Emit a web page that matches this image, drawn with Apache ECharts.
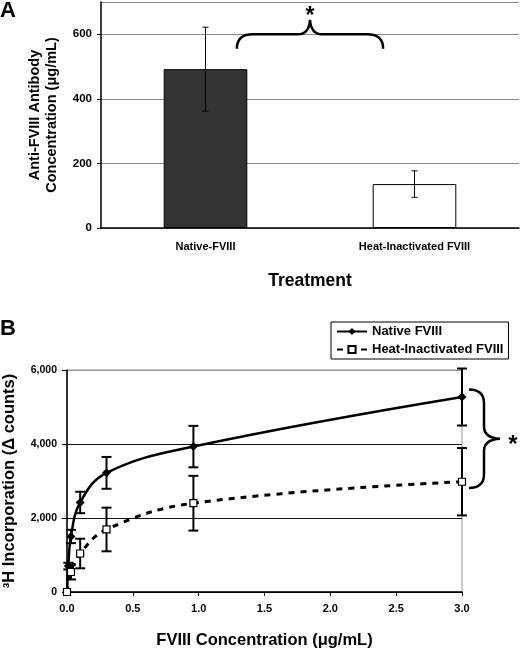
<!DOCTYPE html>
<html lang="en">
<head>
<meta charset="UTF-8">
<title>FVIII</title>
<script src="https://cdn.jsdelivr.net/npm/echarts@6.0.0/dist/echarts.min.js"></script>
<style>
  html, body { margin: 0; padding: 0; background: #fff; }
  #viz { width: 520px; height: 648px; }
</style>
</head>
<body>
<div id="viz"></div>
<script>
  // panel A
  const barCategories = ['Native-FVIII', 'Heat-Inactivated FVIII'];
  const barMeans = [492, 136];
  const barErrors = [130, 41];

  // panel B
  const nativeConc = [0, 0.01, 0.03, 0.1, 0.3, 0.96, 3];
  const nativeMeans = [0, 700, 1500, 2420, 3220, 3930, 5270];
  const nativeErrors = [0, 90, 180, 290, 430, 560, 770];

  const heatConc = [0, 0.03, 0.1, 0.3, 0.96, 3];
  const heatMeans = [0, 540, 1040, 1690, 2400, 2980];
  const heatErrors = [0, 200, 400, 590, 740, 910];

  // significance braces (value positions)
  const braceA = [555, 600, 645];   // ends, flat, tip
  const braceB = [5470, 2810];      // top end, bottom end

  const font = '"Liberation Sans", Arial, sans-serif';
  const bold = { fontFamily: font, fontWeight: 'bold', color: '#000' };

  const withCommas = v => String(v).replace(/\B(?=(\d{3})+(?!\d))/g, ',');

  const errorBars = (capHalf, width) => (params, api) => {
    const x = api.value(0), lo = api.value(1), hi = api.value(2);
    if (hi === lo) return;
    const top = api.coord([x, hi]), bot = api.coord([x, lo]);
    const st = { stroke: '#000', lineWidth: width };
    return {
      type: 'group', children: [
        { type: 'line', shape: { x1: top[0], y1: top[1], x2: bot[0], y2: bot[1] }, style: st },
        { type: 'line', shape: { x1: top[0] - capHalf, y1: top[1], x2: top[0] + capHalf, y2: top[1] }, style: st },
        { type: 'line', shape: { x1: bot[0] - capHalf, y1: bot[1], x2: bot[0] + capHalf, y2: bot[1] }, style: st }
      ]
    };
  };

  const braceStyle = { stroke: '#000', lineWidth: 2.5, fill: null };

  const renderBraceA = (params, api) => {
    const a = api.coord([0, braceA[0]]), b = api.coord([1, braceA[0]]);
    const band = b[0] - a[0];
    const x0 = a[0] + band * 0.15, x1 = b[0] - band * 0.15, xc = (x0 + x1) / 2;
    const yb = a[1], yf = api.coord([0, braceA[1]])[1], yp = api.coord([0, braceA[2]])[1];
    const d = `M${x0},${yb} Q${x0},${yf} ${x0 + 16},${yf} L${xc - 12},${yf} Q${xc - 1},${yf} ${xc},${yp} ` +
      `Q${xc + 1},${yf} ${xc + 12},${yf} L${x1 - 16},${yf} Q${x1},${yf} ${x1},${yb}`;
    return {
      type: 'group', children: [
        { type: 'path', shape: { pathData: d }, style: braceStyle },
        { type: 'text', style: { text: '*', x: xc, y: yp - 3, align: 'center', verticalAlign: 'middle',
          font: 'bold 23px ' + font, fill: '#000' } }
      ]
    };
  };

  const renderBraceB = (params, api) => {
    const t = api.coord([3, braceB[0]]), b = api.coord([3, braceB[1]]);
    const x3 = t[0], yt = t[1], yb = b[1], ym = (yt + yb) / 2;
    const xe = x3 + 7, xf = x3 + 22, xp = x3 + 38;
    const d = `M${xe},${yt} Q${xf},${yt} ${xf},${yt + 14} L${xf},${ym - 12} Q${xf},${ym - 1} ${xp},${ym} ` +
      `Q${xf},${ym + 1} ${xf},${ym + 12} L${xf},${yb - 14} Q${xf},${yb} ${xe},${yb}`;
    return {
      type: 'group', children: [
        { type: 'path', shape: { pathData: d }, style: braceStyle },
        { type: 'text', style: { text: '*', x: x3 + 51, y: ym + 7, align: 'center', verticalAlign: 'middle',
          font: 'bold 24px ' + font, fill: '#000' } }
      ]
    };
  };

  const option = {
    animation: false,
    backgroundColor: '#fff',
    title: [
      { text: 'A', left: 0, top: 0, padding: 0, textStyle: { ...bold, fontSize: 22 } },
      { text: 'B', left: 0, top: 318, padding: 0, textStyle: { ...bold, fontSize: 22 } }
    ],
    legend: {
      data: ['Native FVIII', 'Heat-Inactivated FVIII'],
      orient: 'vertical',
      left: 331, top: 322,
      itemWidth: 30, itemHeight: 9, itemGap: 5,
      padding: [3, 5, 3, 5],
      borderColor: '#000', borderWidth: 1,
      textStyle: { ...bold, fontSize: 13 }
    },
    grid: [
      { left: 101, right: 1, top: 2, height: 226, outerBoundsMode: 'none' },
      { left: 67, right: 58, top: 370, height: 222, outerBoundsMode: 'none',
        show: true, borderColor: '#999', borderWidth: 1 }
    ],
    xAxis: [
      {
        gridIndex: 0, type: 'category', data: barCategories,
        axisLine: { lineStyle: { color: '#000', width: 1.5 } },
        axisTick: { length: 4, lineStyle: { color: '#000' } },
        axisLabel: { ...bold, fontSize: 11, margin: 13 },
        name: 'Treatment', nameLocation: 'middle', nameGap: 44,
        nameTextStyle: { ...bold, fontSize: 17.5 }
      },
      {
        gridIndex: 1, type: 'value', min: 0, max: 3, interval: 0.5,
        axisLine: { lineStyle: { color: '#000', width: 1.5 } },
        axisTick: { length: 4, lineStyle: { color: '#000' } },
        axisLabel: { ...bold, fontSize: 11, margin: 11, formatter: v => v.toFixed(1) },
        splitLine: { show: false },
        name: 'FVIII Concentration (μg/mL)', nameLocation: 'middle', nameGap: 40,
        nameTextStyle: { ...bold, fontSize: 16.5 }
      }
    ],
    yAxis: [
      {
        gridIndex: 0, type: 'value', min: 0, max: 700, interval: 200,
        axisLine: { show: true, lineStyle: { color: '#000', width: 1.5 } },
        axisTick: { show: true, length: 4, lineStyle: { color: '#000' } },
        axisLabel: { ...bold, fontSize: 11.5, margin: 9, showMaxLabel: false },
        splitLine: { lineStyle: { color: '#888', width: 1 } },
        name: 'Anti-FVIII Antibody\nConcentration (μg/mL)', nameLocation: 'middle', nameGap: 41,
        nameTextStyle: { ...bold, fontSize: 14.5, lineHeight: 17 }
      },
      {
        gridIndex: 1, type: 'value', min: 0, max: 6000, interval: 2000,
        axisLine: { show: true, lineStyle: { color: '#000', width: 1.5 } },
        axisTick: { show: true, length: 5, lineStyle: { color: '#000' } },
        axisLabel: { ...bold, fontSize: 10.5, margin: 10, formatter: withCommas },
        splitLine: { lineStyle: { color: ['#000', '#111', '#111', '#999'], width: 1 } },
        name: '³H Incorporation (Δ counts)', nameLocation: 'middle', nameGap: 49,
        nameTextStyle: { ...bold, fontSize: 16.5 }
      }
    ],
    series: [
      {
        type: 'bar', xAxisIndex: 0, yAxisIndex: 0, barWidth: '40%',
        data: barMeans.map((v, i) => ({
          value: v,
          itemStyle: { color: i === 0 ? '#333' : '#fff', borderColor: '#000', borderWidth: 1 }
        }))
      },
      {
        type: 'custom', xAxisIndex: 0, yAxisIndex: 0, z: 5,
        renderItem: errorBars(3, 1),
        encode: { x: 0, y: [1, 2] },
        data: barMeans.map((v, i) => [i, v - barErrors[i], v + barErrors[i]])
      },
      {
        type: 'custom', xAxisIndex: 0, yAxisIndex: 0, z: 5, clip: false, silent: true,
        renderItem: renderBraceA,
        encode: { x: 0, y: 1 },
        data: [[0, braceA[0]]]
      },
      {
        type: 'custom', xAxisIndex: 1, yAxisIndex: 1, z: 1,
        renderItem: errorBars(5, 2),
        encode: { x: 0, y: [1, 2] },
        data: nativeConc.map((x, i) => [x, nativeMeans[i] - nativeErrors[i], nativeMeans[i] + nativeErrors[i]])
          .concat(heatConc.map((x, i) => [x, heatMeans[i] - heatErrors[i], heatMeans[i] + heatErrors[i]]))
      },
      {
        name: 'Native FVIII', type: 'line', xAxisIndex: 1, yAxisIndex: 1, z: 3,
        smooth: 0.4,
        symbol: 'diamond', symbolSize: 9,
        itemStyle: { color: '#000' },
        lineStyle: { color: '#000', width: 2.5 },
        data: nativeConc.map((x, i) => [x, nativeMeans[i]])
      },
      {
        name: 'Heat-Inactivated FVIII', type: 'line', xAxisIndex: 1, yAxisIndex: 1, z: 3,
        smooth: 0.4,
        symbol: 'rect', symbolSize: 7,
        itemStyle: { color: '#fff', borderColor: '#000', borderWidth: 1.2 },
        lineStyle: { color: '#000', width: 3, type: [6, 6] },
        data: heatConc.map((x, i) => [x, heatMeans[i]])
      },
      {
        type: 'custom', xAxisIndex: 1, yAxisIndex: 1, z: 5, clip: false, silent: true,
        renderItem: renderBraceB,
        encode: { x: 0, y: [1, 2] },
        data: [[3, braceB[0], braceB[1]]]
      }
    ]
  };

  const chart = echarts.init(document.getElementById('viz'), null, { renderer: 'canvas' });
  chart.setOption(option);
</script>
</body>
</html>
